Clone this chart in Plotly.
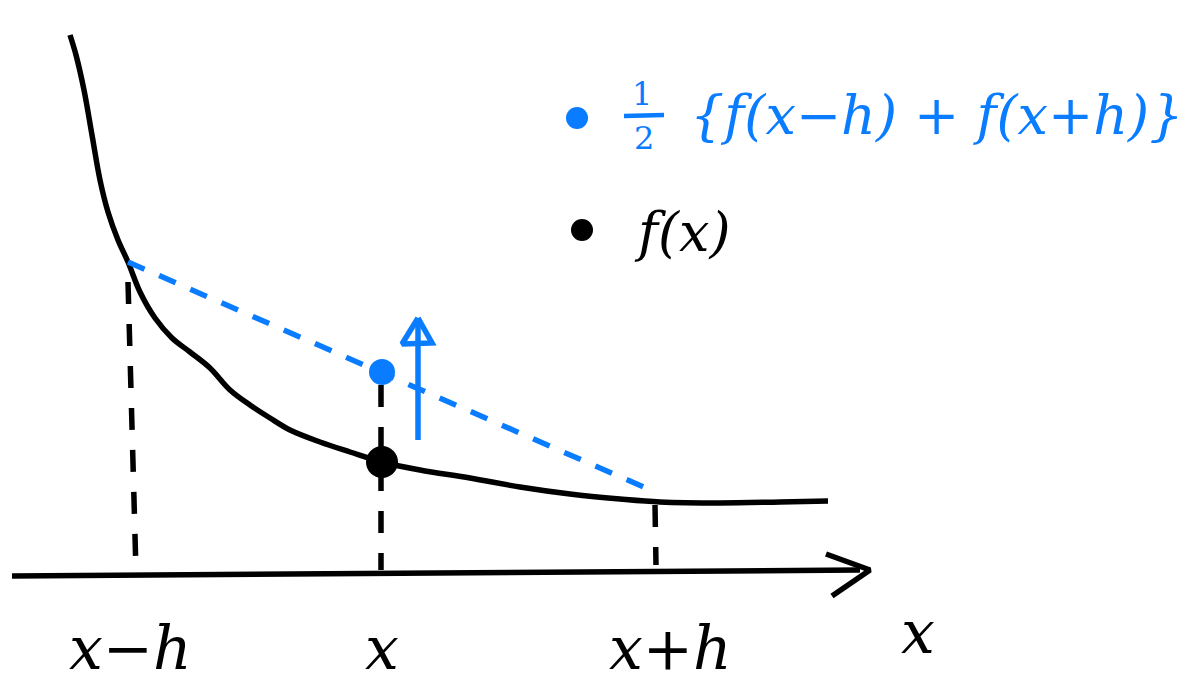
import plotly.graph_objects as go

BLUE = "#0a7cff"
BLACK = "#000000"

# Data (canvas coordinates, y grows downward)
curve_x = [70, 76, 84, 92, 100, 108, 118, 128, 140, 155, 172, 190, 210, 230, 250, 270, 290, 320, 350, 382, 420, 470, 520, 570, 620, 660, 720, 780, 828]
curve_y = [35, 55, 90, 135, 180, 212, 240, 262, 292, 318, 338, 352, 368, 390, 405, 418, 430, 442, 452, 462, 470, 478, 487, 494, 499, 502, 503, 502, 501]

chord_x = [128, 655]
chord_y = [262, 492]

mean_pt = (382, 372)
f_pt = (382, 462)

drops = [
    ([128, 136], [282, 572]),
    ([381, 381], [385, 570]),
    ([655, 656], [505, 565]),
]

axis_x = [12, 860]
axis_y = [576, 570]

arrow_x = [418, 418]
arrow_y = [440, 322]

tick_labels = ["x−h", "x", "x+h"]
tick_pos = [130, 382, 670]
axis_label = "x"

legend_items = [
    (577, 118, BLUE, "{f(x−h) + f(x+h)}"),
    (582, 230, BLACK, "f(x)"),
]

LW = 5.5
fig = go.Figure()

# curve
fig.add_trace(go.Scatter(x=curve_x, y=curve_y, mode="lines",
                         line=dict(color=BLACK, width=LW, shape="spline"),
                         hoverinfo="skip"))
# chord
fig.add_trace(go.Scatter(x=chord_x, y=chord_y, mode="lines",
                         line=dict(color=BLUE, width=LW, dash="18px,16px"),
                         hoverinfo="skip"))
# vertical dashed drops
for dx, dy in drops:
    fig.add_trace(go.Scatter(x=dx, y=dy, mode="lines",
                             line=dict(color=BLACK, width=LW, dash="22px,20px"),
                             hoverinfo="skip"))
# x axis line
fig.add_trace(go.Scatter(x=axis_x, y=axis_y, mode="lines",
                         line=dict(color=BLACK, width=LW), hoverinfo="skip"))
# arrow head of axis
fig.add_trace(go.Scatter(x=[826, 870, 832], y=[554, 570, 596], mode="lines",
                         line=dict(color=BLACK, width=LW), hoverinfo="skip"))
# blue arrow shaft
fig.add_trace(go.Scatter(x=arrow_x, y=arrow_y, mode="lines",
                         line=dict(color=BLUE, width=LW), hoverinfo="skip"))
# blue arrow head
fig.add_trace(go.Scatter(x=[418, 402, 432, 418], y=[318, 344, 343, 318], mode="lines",
                         line=dict(color=BLUE, width=LW), hoverinfo="skip"))
# points
fig.add_trace(go.Scatter(x=[mean_pt[0]], y=[mean_pt[1]], mode="markers",
                         marker=dict(color=BLUE, size=26), hoverinfo="skip"))
fig.add_trace(go.Scatter(x=[f_pt[0]], y=[f_pt[1]], mode="markers",
                         marker=dict(color=BLACK, size=32), hoverinfo="skip"))
# legend dots
for lx, ly, c, _ in legend_items:
    fig.add_trace(go.Scatter(x=[lx], y=[ly], mode="markers",
                             marker=dict(color=c, size=22), hoverinfo="skip"))

FONT = "DejaVu Serif"
anns = []
for t, px in zip(tick_labels, tick_pos):
    anns.append(dict(x=px, y=648, text=f"<i>{t}</i>", showarrow=False,
                     font=dict(family=FONT, size=60, color=BLACK)))
anns.append(dict(x=918, y=632, text=f"<i>{axis_label}</i>", showarrow=False,
                 font=dict(family=FONT, size=60, color=BLACK)))
# legend texts
anns.append(dict(x=642, y=94, text="1", showarrow=False,
                 font=dict(family=FONT, size=32, color=BLUE)))
anns.append(dict(x=644, y=138, text="2", showarrow=False,
                 font=dict(family=FONT, size=32, color=BLUE)))
anns.append(dict(x=688, y=115, text=f"<i>{legend_items[0][3]}</i>", showarrow=False,
                 xanchor="left", font=dict(family=FONT, size=54, color=BLUE)))
anns.append(dict(x=632, y=232, text=f"<i>{legend_items[1][3]}</i>", showarrow=False,
                 xanchor="left", font=dict(family=FONT, size=54, color=BLACK)))
fig.add_trace(go.Scatter(x=[624, 664], y=[116, 115], mode="lines",
                         line=dict(color=BLUE, width=4.5), hoverinfo="skip"))

fig.update_layout(
    width=1200, height=699,
    margin=dict(l=0, r=0, t=0, b=0),
    paper_bgcolor="white", plot_bgcolor="white",
    showlegend=False,
    annotations=anns,
    xaxis=dict(range=[0, 1200], visible=False, fixedrange=True),
    yaxis=dict(range=[699, 0], visible=False, fixedrange=True),
)

fig.write_html("out.html",
               config={"displayModeBar": False},
               post_script="document.body.style.margin='0';document.body.style.overflow='hidden';")
